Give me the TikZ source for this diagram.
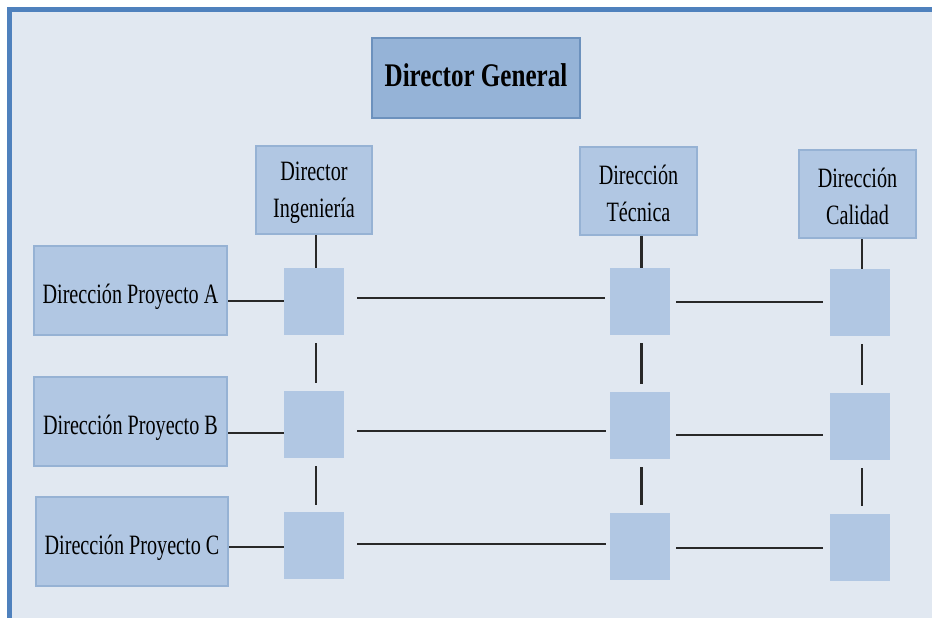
\documentclass[tikz,border=0pt]{standalone}
\usepackage{fontspec}
\usetikzlibrary{calc}
\newfontfamily\condserif[FakeStretch=0.72]{Liberation Serif}
\newfontfamily\condserifbold[FakeStretch=0.76]{Liberation Serif Bold}
\definecolor{pagebg}{RGB}{225,232,241}
\definecolor{framebl}{RGB}{79,129,189}
\definecolor{boxfill}{RGB}{177,199,227}
\definecolor{boxedge}{RGB}{150,178,212}
\definecolor{headfill}{RGB}{149,179,215}
\definecolor{headedge}{RGB}{108,145,189}
\definecolor{linkc}{RGB}{40,40,40}
\tikzset{
  unitbox/.style={draw=boxedge, line width=2pt, fill=boxfill, inner sep=0pt,
    align=center, font=\condserif\fontsize{28}{34}\selectfont},
  oneline/.style={unitbox, text height=25pt, text depth=0pt},
  twoline/.style={unitbox, minimum width=117pt, minimum height=88pt,
    label={[inner sep=0pt, align=center, yshift=-2.5pt,
      font=\condserif\fontsize{28}{37}\selectfont]center:#1}},
  headbox/.style={draw=headedge, line width=2pt, fill=headfill, inner sep=0pt,
    font=\condserifbold\fontsize{33}{38}\selectfont, text height=18pt, text depth=0pt},
  cell/.style={fill=boxfill, inner sep=0pt, minimum width=60pt, minimum height=67pt},
  link/.style={draw=linkc, line width=2.6pt}
}
\begin{document}
\begin{tikzpicture}[x=1pt, y=-1pt]
\useasboundingbox (0,0) rectangle (932,618);
\fill[white] (0,0) rectangle (932,618);
\fill[pagebg] (7,7) rectangle (932,618);
% outer frame: top and left edges
\draw[framebl, line width=5pt] (9.5,618) -- (9.5,9.5) -- (932,9.5);

% management boxes
\node[headbox, minimum width=208pt, minimum height=80pt] (dg) at (476,78) {Director General};
\node[twoline={Director\\Ingeniería}, minimum width=116pt] (ing) at (314,190) {};
\node[twoline={Dirección\\Técnica}] (tec) at (638.5,191) {};
\node[twoline={Dirección\\Calidad}] (cal) at (857.5,194) {};

% project directions
\node[oneline, minimum width=193pt, minimum height=89pt] (pa) at (130.5,290.5) {Dirección Proyecto A};
\node[oneline, minimum width=193pt, minimum height=89pt] (pb) at (130.5,421.5) {Dirección Proyecto B};
\node[oneline, minimum width=192pt, minimum height=89pt] (pc) at (132,541.5) {Dirección Proyecto C};

% matrix cells
\node[cell] (a1) at (314,301.5) {};
\node[cell] (b1) at (314,424.5) {};
\node[cell] (c1) at (314,545.5) {};
\node[cell] (a2) at (640,301.5) {};
\node[cell] (b2) at (640,425.5) {};
\node[cell] (c2) at (640,546.5) {};
\node[cell] (a3) at (860,302.5) {};
\node[cell] (b3) at (860,426.5) {};
\node[cell] (c3) at (860,547.5) {};

% vertical links, column 1
\draw[link] ($(a1.north |- ing.south)+(2,0)$) -- ($(a1.north)+(2,0)$);
\draw[link, shorten <=8pt, shorten >=8pt] ($(a1.south)+(2,0)$) -- ($(b1.north)+(2,0)$);
\draw[link, shorten <=8pt, shorten >=7pt] ($(b1.south)+(2,0)$) -- ($(c1.north)+(2,0)$);
% vertical links, column 2
\draw[link] ($(a2.north |- tec.south)+(1.5,0)$) -- ($(a2.north)+(1.5,0)$);
\draw[link, shorten <=8pt, shorten >=8pt] ($(a2.south)+(1.5,0)$) -- ($(b2.north)+(1.5,0)$);
\draw[link, shorten <=8pt, shorten >=8pt] ($(b2.south)+(1.5,0)$) -- ($(c2.north)+(1.5,0)$);
% vertical links, column 3
\draw[link] ($(a3.north |- cal.south)+(2,0)$) -- ($(a3.north)+(2,0)$);
\draw[link, shorten <=8pt, shorten >=8pt] ($(a3.south)+(2,0)$) -- ($(b3.north)+(2,0)$);
\draw[link, shorten <=8pt, shorten >=8pt] ($(b3.south)+(2,0)$) -- ($(c3.north)+(2,0)$);

% horizontal links, row A
\draw[link] ([yshift=-10.5pt]pa.east) -- ([yshift=0.5pt]a1.west);
\draw[link, shorten <=13pt, shorten >=5pt] ([yshift=3.5pt]a1.east) -- ([yshift=3.5pt]a2.west);
\draw[link, shorten <=6pt, shorten >=7pt] ([yshift=-0.5pt]a2.east) -- ([yshift=0.5pt]a3.west);
% horizontal links, row B
\draw[link] ([yshift=-11.5pt]pb.east) -- ([yshift=-8.5pt]b1.west);
\draw[link, shorten <=13pt, shorten >=4pt] ([yshift=-6.5pt]b1.east) -- ([yshift=-5.5pt]b2.west);
\draw[link, shorten <=6pt, shorten >=7pt] ([yshift=-9.5pt]b2.east) -- ([yshift=-8.5pt]b3.west);
% horizontal links, row C
\draw[link] ([yshift=-5.5pt]pc.east) -- ([yshift=-1.5pt]c1.west);
\draw[link, shorten <=13pt, shorten >=4pt] ([yshift=1.5pt]c1.east) -- ([yshift=2.5pt]c2.west);
\draw[link, shorten <=6pt, shorten >=7pt] ([yshift=-1.5pt]c2.east) -- ([yshift=-0.5pt]c3.west);
\end{tikzpicture}
\end{document}
